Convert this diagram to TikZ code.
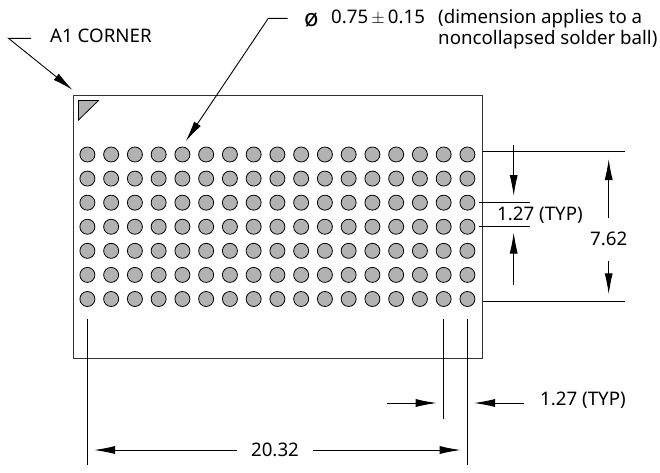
\documentclass[tikz,border=0pt]{standalone}
\usepackage{fontspec}
\setmainfont{Noto Sans}
\usetikzlibrary{arrows.meta}
\definecolor{ballgray}{HTML}{B2B2B2}
\tikzset{
  ball/.style={circle,draw,fill=ballgray,minimum size=15pt,inner sep=0pt,line width=0.8pt},
  lbl/.style={inner sep=0pt,font=\fontsize{18.7}{21.7}\selectfont},
  dim/.style={-{Latex[length=21pt,width=8pt]},line width=0.9pt},
  ext/.style={line width=0.9pt}
}
\begin{document}
\begin{tikzpicture}[x=1pt,y=-1pt]
      \useasboundingbox (0,0) rectangle (660,472);
      \draw[line width=1pt,draw=black!80]
        (73,95) node[inner sep=0pt] (tl){}
        (482.7,358.7) node[inner sep=0pt] (br){};
      \draw[line width=1pt,draw=black!80] (tl.center) rectangle (br.center);
      \draw[fill=ballgray,line width=0.8pt] (78.5,100.5) -- (98.5,100.5) -- (78.5,120) -- cycle;
      \foreach \r in {0,...,6}
        \foreach \c in {0,...,16}
          \node[ball] (b\r-\c) at ({87.4+23.75*\c},{154.5+24.08*\r}) {};
      \draw
        (8.5,38.3) coordinate (a1bend)
        (31,38.3) coordinate (a1start)
        (72.7,90) coordinate (a1tip)
        (287.7,18.3) coordinate (diastart)
        (268.3,18.3) coordinate (diabend)
        (185.7,141.3) coordinate (diatip)
        (482.7,151.7) coordinate (topa)
        (625,151.7) coordinate (topb)
        (482.7,301) coordinate (bota)
        (625,301) coordinate (botb)
        (479,202.3) coordinate (pitcha)
        (530,202.3) coordinate (pitchb)
        (479,226.7) coordinate (pitchc)
        (530,226.7) coordinate (pitchd)
        (513.7,145) coordinate (upa)
        (513.7,196) coordinate (upb)
        (513.7,285) coordinate (loa)
        (513.7,232.5) coordinate (lob)
        (608.7,218) coordinate (ha)
        (608.7,159) coordinate (hb)
        (608.7,260.7) coordinate (hc)
        (608.7,294.3) coordinate (hd)
        (443.5,319) coordinate (va)
        (443.5,418.7) coordinate (vb)
        (467.4,319) coordinate (vc)
        (467.4,465) coordinate (vd)
        (87.4,319) coordinate (ve)
        (87.4,465) coordinate (vf)
        (387,403) coordinate (pa)
        (436.7,403) coordinate (pb)
        (524,403) coordinate (pc)
        (474,403) coordinate (pd)
        (236.7,450) coordinate (wa)
        (94,450) coordinate (wb)
        (313,450) coordinate (wc)
        (460.7,450) coordinate (wd);
      \node[lbl,anchor=base west] (a1) at (50,42) {A1 CORNER};
      \node[lbl,anchor=base west] (dia) at (304,26) {\fontsize{24}{24}\selectfont\o};
      \node[lbl,anchor=base west] (val) at (331,23) {0.75\,$\pm$\,0.15};
      \node[lbl,anchor=base west,align=left] (note) at (438,23) {(dimension applies to a};
      \node[lbl,anchor=base west,align=left] (noteb) at (438,44) {noncollapsed solder ball)};
      \node[lbl,anchor=base west] (typa) at (497,220) {1.27 (TYP)};
      \node[lbl,anchor=base] (height) at (608.7,245) {7.62};
      \node[lbl,anchor=base west] (typb) at (540,405) {1.27 (TYP)};
      \node[lbl,anchor=base] (width) at (275,456) {20.32};
      \begin{scope}
        \draw[dim] (a1start) -- (a1bend) -- (a1tip);
        \draw[dim] (diastart) -- (diabend) -- (diatip);
        \draw[dim] (upa) -- (upb);
        \draw[dim] (loa) -- (lob);
        \draw[dim] (ha) -- (hb);
        \draw[dim] (hc) -- (hd);
        \draw[dim] (pa) -- (pb);
        \draw[dim] (pc) -- (pd);
        \draw[dim] (wa) -- (wb);
        \draw[dim] (wc) -- (wd);
        \draw[ext] (topa) -- (topb);
        \draw[ext] (bota) -- (botb);
        \draw[ext] (pitcha) -- (pitchb);
        \draw[ext] (pitchc) -- (pitchd);
        \draw[ext] (va) -- (vb);
        \draw[ext] (vc) -- (vd);
        \draw[ext] (ve) -- (vf);
      \end{scope}
    \end{tikzpicture}
\end{document}
